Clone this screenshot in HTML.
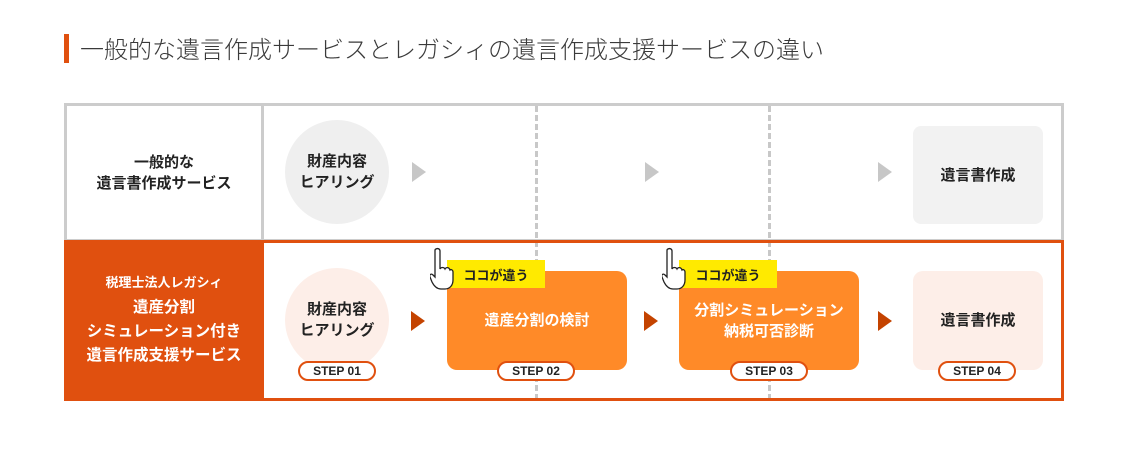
<!DOCTYPE html>
<html><head><meta charset="utf-8"><style>
*{margin:0;padding:0;box-sizing:border-box}
body{width:1122px;height:451px;background:#fff;position:relative;overflow:hidden;font-family:"Liberation Sans","Noto Sans CJK JP",sans-serif}
.a{position:absolute}
.c{display:flex;align-items:center;justify-content:center;text-align:center}
.title{left:80px;top:30px;font-size:24px;color:#3a3a3a;font-weight:300;white-space:nowrap}
.t{font-weight:bold;font-size:15px;line-height:21px;color:#222}
.step{width:78px;height:20px;border:2px solid #e0500f;border-radius:10px;background:#fff;font-size:12px;font-weight:bold;color:#222}
.tri{width:0;height:0;border-top:10px solid transparent;border-bottom:10px solid transparent;border-left:14px solid #c7c7c7}
.tri.o{border-left-color:#c44300}
.yel{background:#ffea00;font-size:13px;font-weight:bold;color:#222;height:28px;width:98px}
</style></head><body>
<div class="a" style="left:64px;top:34px;width:5px;height:29px;background:#e0500f"></div>
<div class="a title">一般的な遺言作成サービスとレガシィの遺言作成支援サービスの違い</div>

<div class="a" style="left:64px;top:103px;width:1000px;height:139px;border:3px solid #ccc"></div>
<div class="a" style="left:261px;top:103px;width:3px;height:139px;background:#ccc"></div>
<div class="a c t" style="left:67px;top:106px;width:194px;height:133px">一般的な<br>遺言書作成サービス</div>
<div class="a" style="left:535px;top:106px;width:0;height:294px;border-left:3px dashed #c8c8c8"></div>
<div class="a" style="left:768px;top:106px;width:0;height:294px;border-left:3px dashed #c8c8c8"></div>

<div class="a c t" style="left:285px;top:120px;width:104px;height:104px;border-radius:50%;background:#efefef">財産内容<br>ヒアリング</div>
<div class="a tri" style="left:412px;top:162px"></div>
<div class="a tri" style="left:645px;top:162px"></div>
<div class="a tri" style="left:878px;top:162px"></div>
<div class="a c t" style="left:913px;top:126px;width:130px;height:98px;border-radius:8px;background:#f2f2f2">遺言書作成</div>

<div class="a" style="left:64px;top:240px;width:1000px;height:161px;border:3px solid #e0500f"></div>
<div class="a c" style="left:64px;top:240px;width:200px;height:161px;background:#e0500f;color:#fff;flex-direction:column;font-weight:bold">
<div style="font-size:13px;line-height:18px;margin-bottom:4px">税理士法人レガシィ</div>
<div style="font-size:15.5px;line-height:24px">遺産分割<br>シミュレーション付き<br>遺言作成支援サービス</div></div>

<div class="a c t" style="left:285px;top:268px;width:104px;height:104px;border-radius:50%;background:#fdeee8">財産内容<br>ヒアリング</div>
<div class="a c step" style="left:298px;top:361px">STEP 01</div>
<div class="a tri o" style="left:411px;top:311px"></div>

<div class="a c t" style="left:447px;top:271px;width:180px;height:99px;border-radius:10px;background:#ff8a28;color:#fff">遺産分割の検討</div>
<div class="a c yel" style="left:447px;top:260px">ココが違う</div>
<div class="a c step" style="left:497px;top:361px">STEP 02</div>
<div class="a tri o" style="left:644px;top:311px"></div>

<div class="a c t" style="left:679px;top:271px;width:180px;height:99px;border-radius:10px;background:#ff8a28;color:#fff">分割シミュレーション<br>納税可否診断</div>
<div class="a c yel" style="left:679px;top:260px">ココが違う</div>
<div class="a c step" style="left:730px;top:361px">STEP 03</div>
<div class="a tri o" style="left:878px;top:311px"></div>

<div class="a c t" style="left:913px;top:271px;width:130px;height:99px;border-radius:10px;background:#fdeee8">遺言書作成</div>
<div class="a c step" style="left:938px;top:361px">STEP 04</div>

<svg class="a" style="left:430px;top:247px" width="24" height="44" viewBox="0 0 24 44"><path d="M6 2c2-1 4 0 4 2v18c1-2 4-2 5 0 1-2 4-2 5 1 1-1 3 0 3 2v8c0 5-3 9-8 9h-4c-4 0-7-3-9-7l-2-5c-1-2 1-4 3-2l2 2V4c0-1 0-2 1-2z" fill="#fff" stroke="#222" stroke-width="1.3"/></svg>
<svg class="a" style="left:662px;top:247px" width="24" height="44" viewBox="0 0 24 44"><path d="M6 2c2-1 4 0 4 2v18c1-2 4-2 5 0 1-2 4-2 5 1 1-1 3 0 3 2v8c0 5-3 9-8 9h-4c-4 0-7-3-9-7l-2-5c-1-2 1-4 3-2l2 2V4c0-1 0-2 1-2z" fill="#fff" stroke="#222" stroke-width="1.3"/></svg>
</body></html>
